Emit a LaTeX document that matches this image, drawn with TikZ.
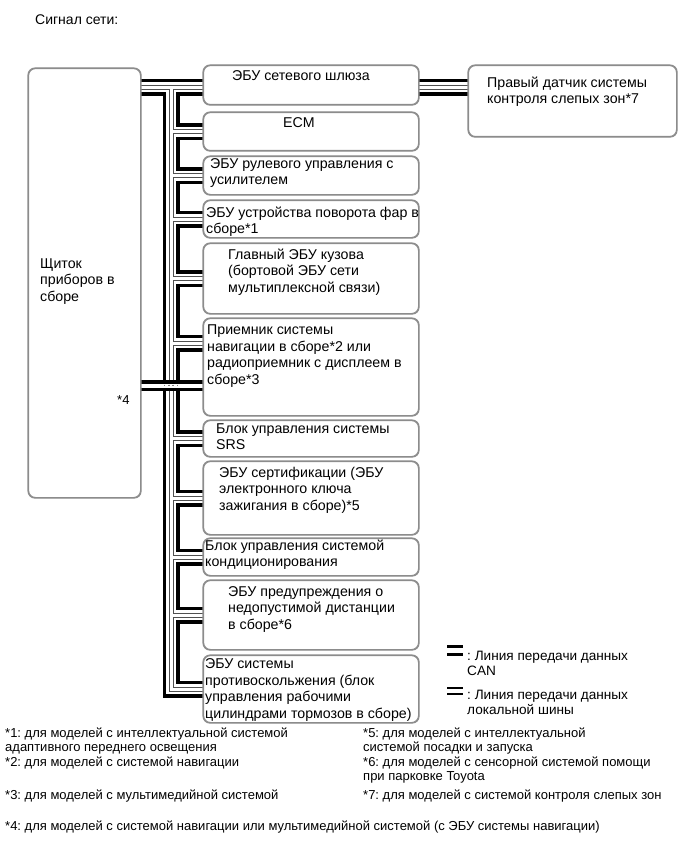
\documentclass[tikz,border=0pt]{standalone}
\usepackage{fontspec}
\setmainfont{Liberation Sans}
\frenchspacing
\definecolor{boxgray}{HTML}{8C8C8C}
\definecolor{thingray}{HTML}{505050}
\begin{document}
\begin{tikzpicture}[x=1pt,y=-1pt,
  box/.style={draw=boxgray, line width=1.1pt, rounded corners=7pt, inner sep=0pt, anchor=north west},
  txt/.style={anchor=base west, inner sep=0pt, align=left, font=\fontsize{14.2}{16.5}\selectfont},
  note/.style={anchor=base west, inner sep=0pt, align=left, font=\fontsize{13}{14.5}\selectfont},
  leg/.style={anchor=base west, inner sep=0pt, align=left, font=\fontsize{13.6}{15.5}\selectfont},
  bus/.style={line join=miter, line cap=butt}]
\useasboundingbox (0,0) rectangle (689,853);

\node[anchor=base west, inner sep=0pt, font=\fontsize{14}{16}\selectfont] (title) at (35,25) {Сигнал сети:};

% boxes
\node[box, minimum width=112pt, minimum height=429pt] (panel) at (28,68) {};
\node[box, minimum width=215pt, minimum height=39pt] (gw) at (203,65) {};
\node[box, minimum width=208pt, minimum height=71pt] (rbs) at (468,65) {};
\node[box, minimum width=215pt, minimum height=38pt] (ecm) at (203,112) {};
\node[box, minimum width=215pt, minimum height=38pt] (eps) at (203,156) {};
\node[box, minimum width=215pt, minimum height=37pt] (afs) at (203,200) {};
\node[box, minimum width=215pt, minimum height=70pt] (body) at (203,243) {};
\node[box, minimum width=215pt, minimum height=97pt] (nav) at (203,318) {};
\node[box, minimum width=215pt, minimum height=36pt] (srs) at (203,420) {};
\node[box, minimum width=215pt, minimum height=73pt] (cert) at (203,461) {};
\node[box, minimum width=215pt, minimum height=37pt] (ac) at (203,538) {};
\node[box, minimum width=215pt, minimum height=69pt] (dist) at (203,580) {};
\node[box, minimum width=215pt, minimum height=67pt] (pcs) at (203,655) {};

\coordinate (j0) at (171,87.5);
\coordinate (navc) at (203,343);
\coordinate (lb) at (171,385.5);

% CAN bus tree
\foreach \w/\c in {17/black,10/white,5/thingray,3/white}{
  \draw[bus, line width=\w pt, draw=\c]
    (panel.east |- j0) -- (gw.west |- j0)
    (gw.east |- j0) -- (rbs.west |- j0)
    (j0) -- (j0 |- pcs.west) -- (pcs.west)
    (j0 |- ecm.west) -- (ecm.west)
    (j0 |- eps.west) -- (eps.west)
    (j0 |- afs.west) -- (afs.west)
    (j0 |- body.west) -- (body.west)
    (j0 |- navc) -- (navc)
    (j0 |- srs.west) -- (srs.west)
    (j0 |- cert.west) -- (cert.west)
    (j0 |- ac.west) -- (ac.west)
    (j0 |- dist.west) -- (dist.west);
}
% local bus *4
\draw[bus, line width=11pt] (panel.east |- lb) -- (nav.west |- lb);
\draw[bus, line width=4pt, white] (panel.east |- lb) -- (nav.west |- lb);
\foreach \x in {164.25,169,173,177.75}
  \draw[gray, line width=1.4pt] (\x,384.6) -- (\x,386.4);

% box borders on top of the bus ends
\foreach \n in {panel,gw,rbs,ecm,eps,afs,body,nav,srs,cert,ac,dist,pcs}
  \draw[draw=boxgray, line width=1.1pt, rounded corners=7pt] (\n.north west) rectangle (\n.south east);

% texts (anchor = baseline of last line)
\node[txt] (tgw) at (232,81) {ЭБУ сетевого шлюза};
\node[txt] (trbs) at (487,104) {Правый датчик системы\\контроля слепых зон*7};
\node[txt] (tecm) at (283,128) {ECM};
\node[txt] (teps) at (210,184.5) {ЭБУ рулевого управления с\\усилителем};
\node[txt] (tafs) at (206,233.5) {ЭБУ устройства поворота фар в\\сборе*1};
\node[txt] (tbody) at (228,292) {Главный ЭБУ кузова\\(бортовой ЭБУ сети\\мультиплексной связи)};
\node[txt] (tnav) at (207,384) {Приемник системы\\навигации в сборе*2 или\\радиоприемник с дисплеем в\\сборе*3};
\node[txt] (tpanel) at (40,301) {Щиток\\приборов в\\сборе};
\node[txt] (tsrs) at (216,449.5) {Блок управления системы\\SRS};
\node[txt] (tcert) at (219,510) {ЭБУ сертификации (ЭБУ\\электронного ключа\\зажигания в сборе)*5};
\node[txt] (tac) at (205,566.5) {Блок управления системой\\кондиционирования};
\node[txt] (tdist) at (228,629) {ЭБУ предупреждения о\\недопустимой дистанции\\в сборе*6};
\node[txt] (tpcs) at (205,718) {ЭБУ системы\\противоскольжения (блок\\управления рабочими\\цилиндрами тормозов в сборе)};
\node[note] (t4) at (117,404) {*4};

% legend
\coordinate (lg1) at (447,654.5);
\coordinate (lg2) at (463,654.5);
\draw[line width=2.6pt] (lg1) -- (lg2);
\draw[line width=2.6pt] ([yshift=8pt]lg1) -- ([yshift=8pt]lg2);
\node[leg] (lgt1) at (467,675.5) {: Линия передачи данных\\CAN};
\coordinate (lh1) at (447,694);
\coordinate (lh2) at (463,694);
\draw[line width=2.6pt] (lh1) -- (lh2);
\draw[line width=2.6pt] ([yshift=6pt]lh1) -- ([yshift=6pt]lh2);
\node[leg] (lgt2) at (467,714.5) {: Линия передачи данных\\локальной шины};

% footnotes
\node[note] (n1) at (5,766) {*1: для моделей с интеллектуальной системой\\адаптивного переднего освещения\\*2: для моделей с системой навигации};
\node[note] (n3) at (5,799) {*3: для моделей с мультимедийной системой};
\node[note] (n5) at (363,780.5) {*5: для моделей с интеллектуальной\\системой посадки и запуска\\*6: для моделей с сенсорной системой помощи\\при парковке Toyota};
\node[note] (n7) at (363,799) {*7: для моделей с системой контроля слепых зон};
\node[note] (n4) at (5,830) {*4: для моделей с системой навигации или мультимедийной системой (с ЭБУ системы навигации)};
\end{tikzpicture}
\end{document}
